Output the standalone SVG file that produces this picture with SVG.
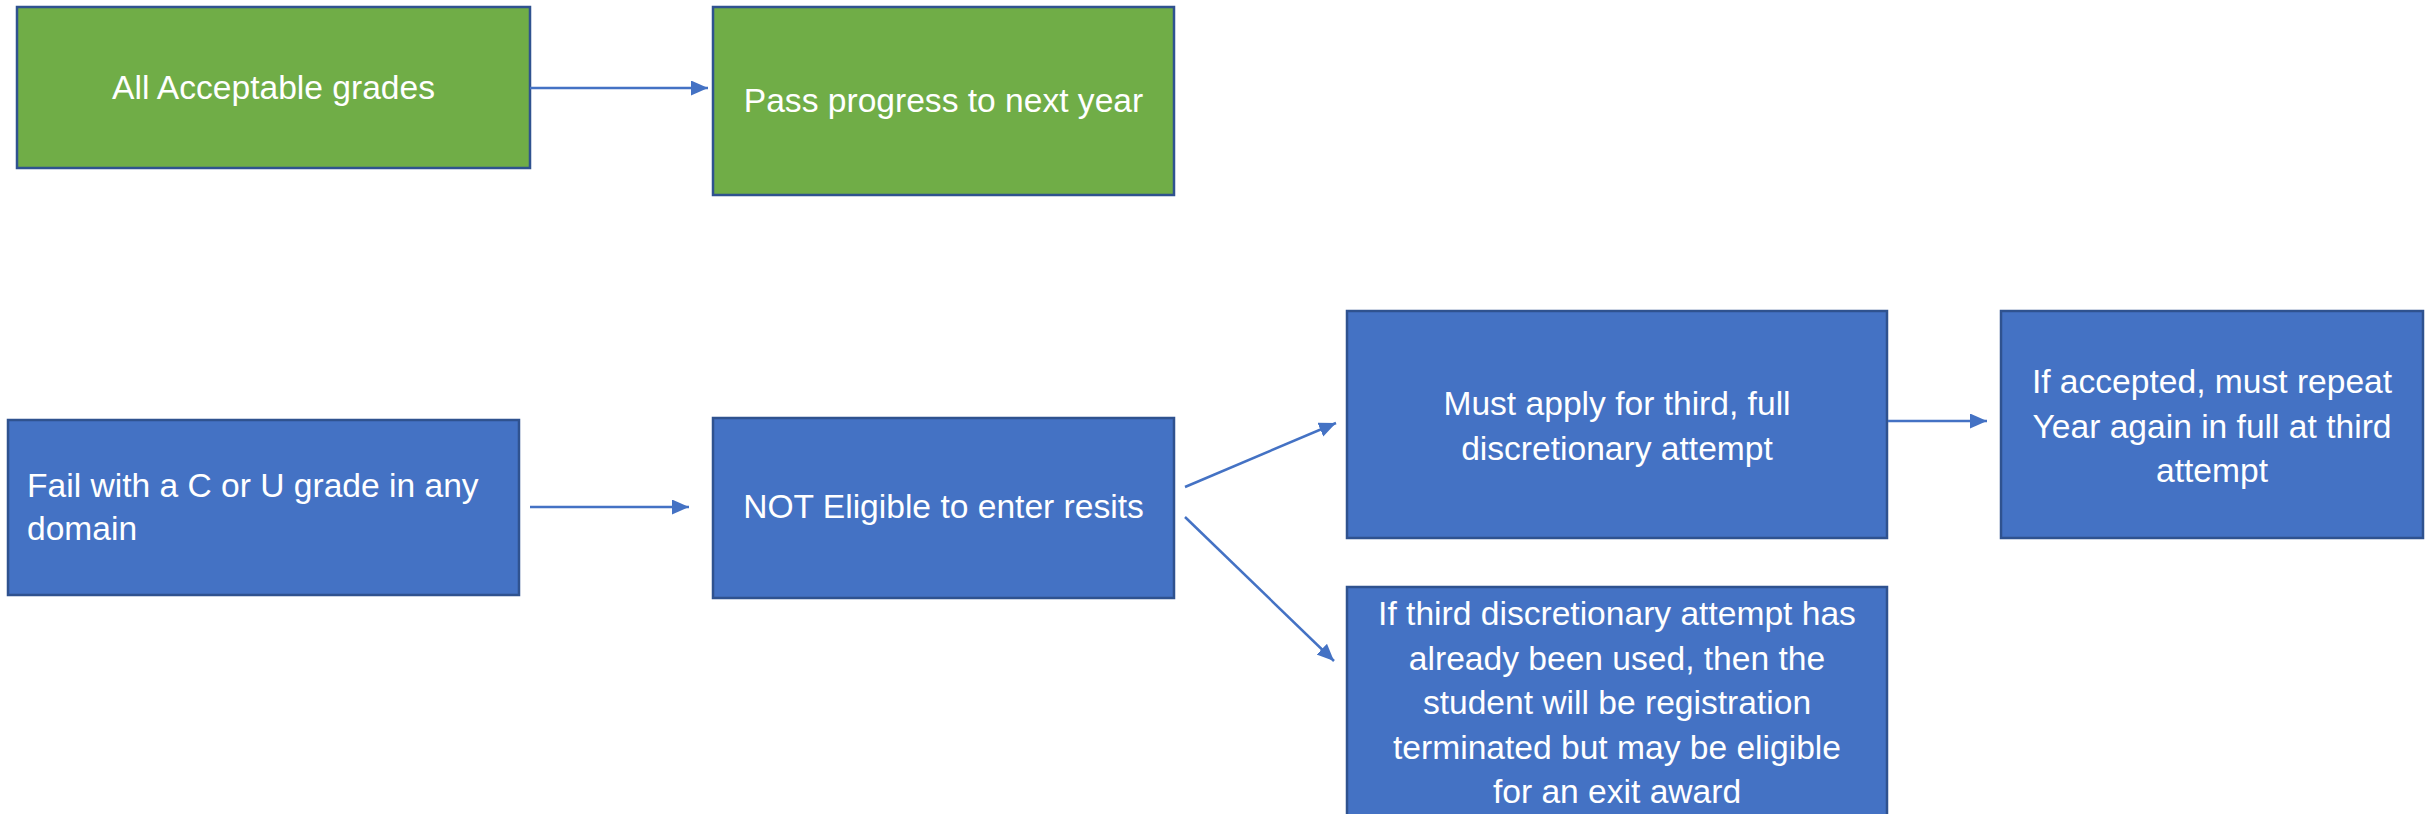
<svg xmlns="http://www.w3.org/2000/svg" width="2425" height="814" viewBox="0 0 2425 814">
<style>
.g{fill:#70AD47;stroke:#2F528F;stroke-width:2.5}
.b{fill:#4472C4;stroke:#2F528F;stroke-width:2.5}
text{font-family:"Liberation Sans",Arial,sans-serif;font-size:33.6px;fill:#FFFFFF}
.c{text-anchor:middle}
.con line{stroke:#4472C4;stroke-width:2.5;fill:none}
</style>
<defs>
<marker id="ah" markerUnits="userSpaceOnUse" markerWidth="18" markerHeight="16" refX="17" refY="7.5" orient="auto">
<path d="M0,0 L17,7.5 L0,15 z" fill="#4472C4"/>
</marker>
</defs>
<rect width="2425" height="814" fill="#FFFFFF"/>
<g id="n1"><rect class="g" x="17" y="7" width="513" height="161"/><text class="c" x="273.5" y="99">All Acceptable grades</text></g>
<g id="n2"><rect class="g" x="713" y="7" width="461" height="188"/><text class="c" x="943.5" y="112">Pass progress to next year</text></g>
<g id="n3"><rect class="b" x="8" y="420" width="511" height="175"/><text x="27" y="497">Fail with a C or U grade in any</text><text x="27" y="540">domain</text></g>
<g id="n4"><rect class="b" x="713" y="418" width="461" height="180"/><text class="c" x="943.5" y="518">NOT Eligible to enter resits</text></g>
<g id="n5"><rect class="b" x="1347" y="311" width="540" height="227"/><text class="c" x="1617" y="415">Must apply for third, full</text><text class="c" x="1617" y="460">discretionary attempt</text></g>
<g id="n6"><rect class="b" x="2001" y="311" width="422" height="227"/><text class="c" x="2212" y="393">If accepted, must repeat</text><text class="c" x="2212" y="437.5">Year again in full at third</text><text class="c" x="2212" y="482">attempt</text></g>
<g id="n7"><rect class="b" x="1347" y="587" width="540" height="235"/><text class="c" x="1617" y="625">If third discretionary attempt has</text><text class="c" x="1617" y="670">already been used, then the</text><text class="c" x="1617" y="714">student will be registration</text><text class="c" x="1617" y="759">terminated but may be eligible</text><text class="c" x="1617" y="803">for an exit award</text></g>
<g class="con" id="connectors">
<line x1="530" y1="88" x2="708" y2="88" marker-end="url(#ah)"/>
<line x1="530" y1="507" x2="689" y2="507" marker-end="url(#ah)"/>
<line x1="1185" y1="487" x2="1336" y2="423" marker-end="url(#ah)"/>
<line x1="1185" y1="517" x2="1334" y2="661" marker-end="url(#ah)"/>
<line x1="1888" y1="421" x2="1987" y2="421" marker-end="url(#ah)"/>
</g>
</svg>
